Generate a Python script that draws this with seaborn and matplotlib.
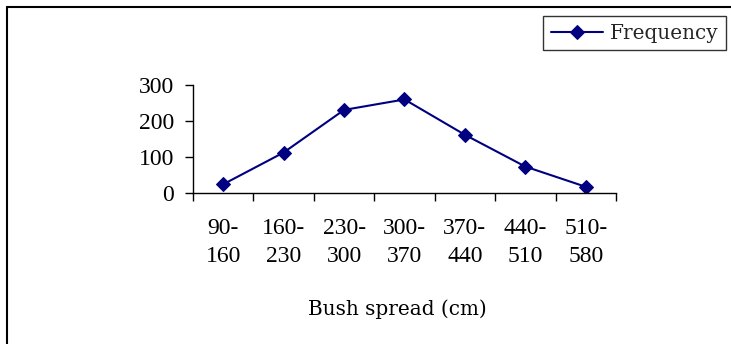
import matplotlib
matplotlib.use("Agg")
import matplotlib.pyplot as plt
from matplotlib.lines import Line2D
import seaborn as sns
import pandas as pd

# Bush spread classes and their frequencies
classes = ["90-\n160", "160-\n230", "230-\n300", "300-\n370", "370-\n440", "440-\n510", "510-\n580"]
frequency = [25, 113, 231, 260, 162, 74, 18]
y_ticks = [0, 100, 200, 300]

sns.set_theme(style="white")
plt.rcParams["font.family"] = ["Liberation Serif", "DejaVu Serif"]

df = pd.DataFrame({"spread": classes, "Frequency": frequency})
df["pos"] = range(len(classes))

fig = plt.figure(figsize=(7.31, 3.44), dpi=100)
ax = fig.add_axes([193 / 731, 1 - 193.3 / 344, (616 - 193) / 731, (193.3 - 85) / 344])

sns.lineplot(data=df, x="pos", y="Frequency", ax=ax, color="#000080",
             marker="D", markersize=7, markeredgecolor="#000080",
             linewidth=1.5, label="Frequency")

num_font = dict(family="Liberation Serif", size=17)
txt_font = dict(family="DejaVu Serif", size=14.4)

ax.set_xlim(-0.5, len(classes) - 0.5)
ax.set_ylim(0, 300)
ax.set_yticks(y_ticks)
ax.set_yticklabels([str(v) for v in y_ticks], fontdict=num_font)
ax.set_xticks(range(len(classes)))
ax.set_xticklabels(classes, fontdict=num_font, linespacing=1.45)
ax.set_xticks([i - 0.5 for i in range(len(classes) + 1)], minor=True)
ax.tick_params(axis="x", which="major", length=0, pad=18, colors="black")
ax.tick_params(axis="x", which="minor", length=5.5, width=1, color="black", direction="out", bottom=True)
ax.tick_params(axis="y", length=5.5, width=1, color="black", direction="out", left=True,
               pad=8, colors="black")
for side in ("top", "right"):
    ax.spines[side].set_visible(False)
for side in ("left", "bottom"):
    ax.spines[side].set_color("black")
    ax.spines[side].set_linewidth(1)

ax.set_xlabel("Bush spread (cm)", fontdict=txt_font, color="black")
ax.xaxis.label.set_verticalalignment("top")
ax.xaxis.set_label_coords(0.484, 1 - (299 - 85) / (193.3 - 85))
ax.set_ylabel("")

leg = ax.legend(loc="upper right", bbox_to_anchor=(726 / 731, 1 - 16 / 344),
                bbox_transform=fig.transFigure, prop=dict(family="DejaVu Serif", size=14.4),
                frameon=True, fancybox=False, handlelength=2.6, borderpad=0.38,
                handletextpad=0.35, borderaxespad=0)
leg.get_frame().set_edgecolor("black")
leg.get_frame().set_linewidth(1)

# outer chart border (top and left edges)
fig.add_artist(Line2D([7 / 731, 1.0], [1 - 7 / 344, 1 - 7 / 344], transform=fig.transFigure,
                      color="black", linewidth=1.5))
fig.add_artist(Line2D([7 / 731, 7 / 731], [0, 1 - 7 / 344], transform=fig.transFigure,
                      color="black", linewidth=1.5))

fig.savefig("out.png", dpi=100)
